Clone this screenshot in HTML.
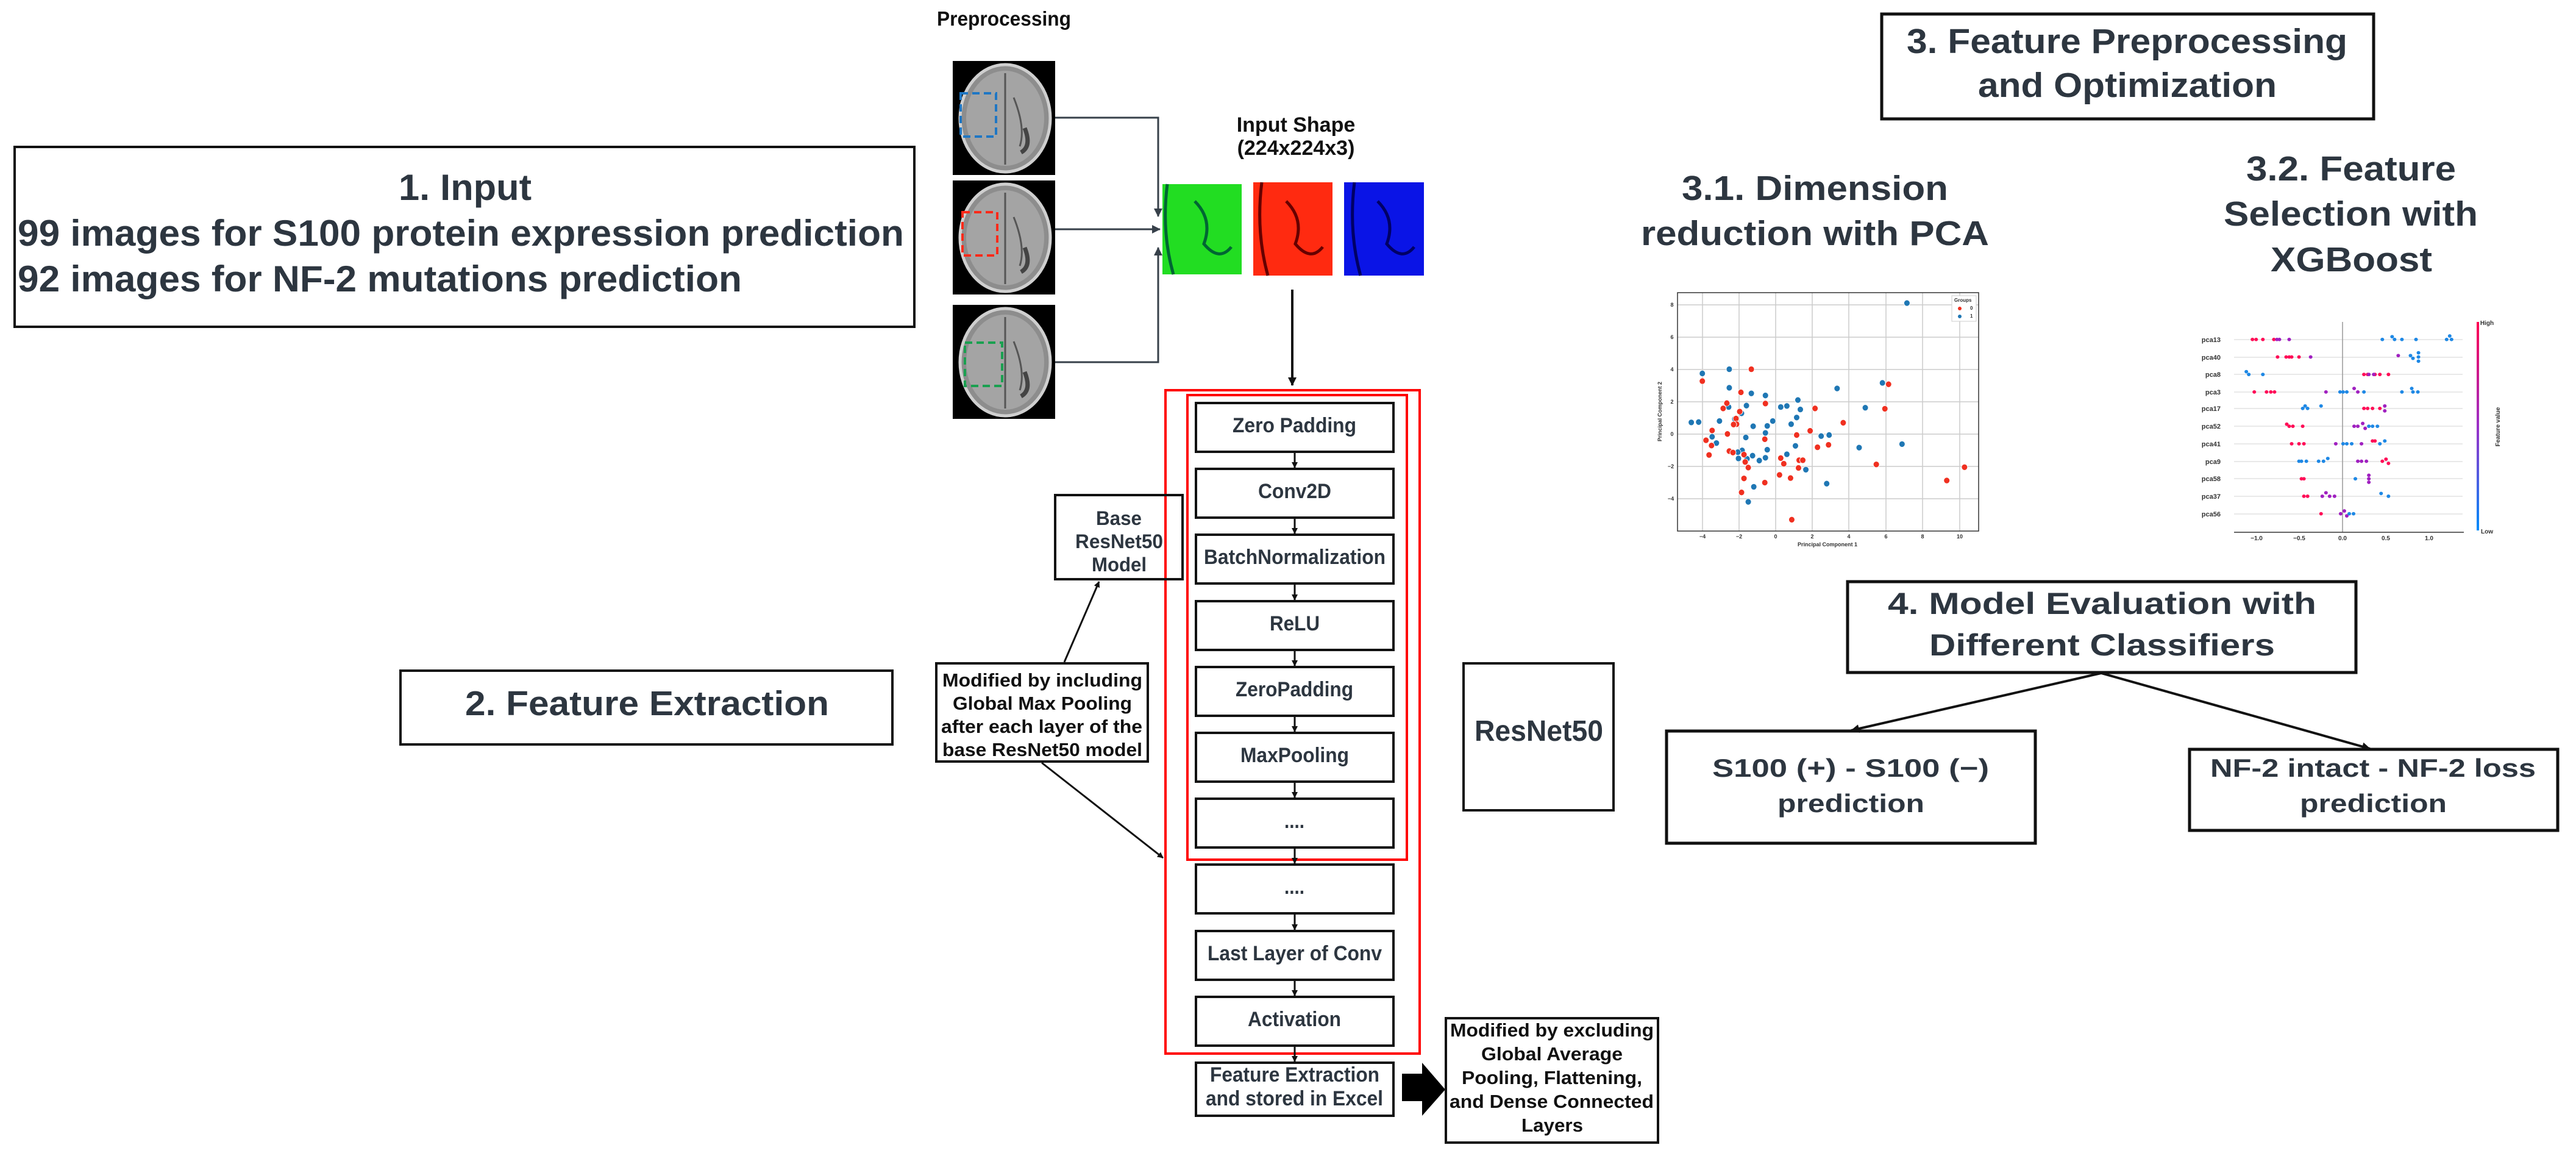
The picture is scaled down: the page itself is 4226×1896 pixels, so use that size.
<!DOCTYPE html>
<html><head><meta charset="utf-8"><style>
html,body{margin:0;padding:0;background:#fff}
svg{display:block}
text{font-family:"Liberation Sans",sans-serif;font-weight:bold}
</style></head><body>
<svg width="4226" height="1896" viewBox="0 0 4226 1896" xmlns="http://www.w3.org/2000/svg">
<defs>
<marker id="ah" markerWidth="10" markerHeight="10" refX="9" refY="5" orient="auto" markerUnits="userSpaceOnUse"><path d="M0,0 L10,5 L0,10 z" fill="#111"/></marker>
<marker id="ah2" markerWidth="14" markerHeight="14" refX="13" refY="7" orient="auto" markerUnits="userSpaceOnUse"><path d="M0,0 L14,7 L0,14 z" fill="#111"/></marker>
<marker id="ahg" markerWidth="14" markerHeight="14" refX="13" refY="7" orient="auto" markerUnits="userSpaceOnUse"><path d="M0,0 L14,7 L0,14 z" fill="#37404a"/></marker>
<linearGradient id="cb" x1="0" y1="0" x2="0" y2="1"><stop offset="0" stop-color="#ff0052"/><stop offset="0.5" stop-color="#9b30c8"/><stop offset="1" stop-color="#008bfb"/></linearGradient>
<g id="brain">
<rect x="0" y="0" width="168" height="187" fill="#000"/>
<ellipse cx="86" cy="94" rx="74" ry="88" fill="#8d8d8d" stroke="#cfcfcf" stroke-width="5"/>
<ellipse cx="86" cy="94" rx="64" ry="78" fill="#a4a4a4"/>
<path d="M86,20 L86,170 M100,60 Q120,110 110,140" stroke="#555" stroke-width="3" fill="none"/>
<path d="M118,110 Q130,140 112,150" stroke="#444" stroke-width="7" fill="none"/>
</g>
</defs>

<!-- 1. Input -->
<rect x="24" y="241" width="1476" height="295" fill="none" stroke="#111" stroke-width="4"/>
<g fill="#2d3640" font-size="60">
<text x="654" y="328" textLength="218" lengthAdjust="spacingAndGlyphs">1. Input</text>
<text x="29" y="403" textLength="1454" lengthAdjust="spacingAndGlyphs">99 images for S100 protein expression prediction</text>
<text x="29" y="478" textLength="1188" lengthAdjust="spacingAndGlyphs">92 images for NF-2 mutations prediction</text>
</g>

<!-- 2. Feature Extraction -->
<rect x="657" y="1100" width="807" height="121" fill="none" stroke="#111" stroke-width="4"/>
<text x="763" y="1173" font-size="57" fill="#2d3640" textLength="597" lengthAdjust="spacingAndGlyphs">2. Feature Extraction</text>

<!-- Preprocessing -->
<text x="1537" y="42" font-size="33" fill="#111" textLength="220" lengthAdjust="spacingAndGlyphs">Preprocessing</text>
<use href="#brain" x="1563" y="100"/>
<use href="#brain" x="1563" y="296"/>
<use href="#brain" x="1563" y="500"/>
<rect x="1576" y="153" width="58" height="71" fill="none" stroke="#1f77c4" stroke-width="4" stroke-dasharray="12,7"/>
<rect x="1579" y="348" width="57" height="71" fill="none" stroke="#ff2a1a" stroke-width="4" stroke-dasharray="12,7"/>
<rect x="1583" y="562" width="61" height="71" fill="none" stroke="#1aa050" stroke-width="4" stroke-dasharray="12,7"/>
<g stroke="#37404a" stroke-width="3" fill="none">
<path d="M1731,193 H1900 V355" marker-end="url(#ahg)"/>
<path d="M1731,376 H1903" marker-end="url(#ahg)"/>
<path d="M1731,594 H1900 V406" marker-end="url(#ahg)"/>
</g>

<!-- colour channels -->
<rect x="1907" y="302" width="130" height="148" fill="#22dd22"/>
<path d="M1915,302 Q1905,380 1925,450 M1960,330 Q1990,360 1975,400 Q2000,430 2020,405" stroke="#063" stroke-width="5" fill="none"/>
<rect x="2056" y="299" width="130" height="153" fill="#ff2a10"/>
<path d="M2070,299 Q2060,380 2080,452 M2110,330 Q2140,360 2125,400 Q2150,430 2170,405" stroke="#600" stroke-width="5" fill="none"/>
<rect x="2205" y="299" width="131" height="153" fill="#0a14e6"/>
<path d="M2222,299 Q2212,380 2232,452 M2260,330 Q2290,360 2275,400 Q2300,430 2320,405" stroke="#006" stroke-width="5" fill="none"/>
<g fill="#111" font-size="34" text-anchor="middle">
<text x="2126" y="216">Input Shape</text>
<text x="2126" y="254">(224x224x3)</text>
</g>
<path d="M2120,475 V632" stroke="#111" stroke-width="4" marker-end="url(#ah2)"/>

<!-- ResNet stack -->
<rect x="1912" y="640" width="417" height="1088" fill="none" stroke="#f00" stroke-width="4"/>
<rect x="1948" y="648" width="360" height="762" fill="none" stroke="#f00" stroke-width="4"/>
<g fill="none" stroke="#111" stroke-width="4">
<rect x="1962" y="661" width="324" height="80"/>
<rect x="1962" y="769" width="324" height="80"/>
<rect x="1962" y="877" width="324" height="80"/>
<rect x="1962" y="986" width="324" height="80"/>
<rect x="1962" y="1094" width="324" height="80"/>
<rect x="1962" y="1202" width="324" height="80"/>
<rect x="1962" y="1310" width="324" height="80"/>
<rect x="1962" y="1418" width="324" height="80"/>
<rect x="1962" y="1527" width="324" height="80"/>
<rect x="1962" y="1635" width="324" height="80"/>
<rect x="1962" y="1743" width="324" height="87"/>
</g>
<g stroke="#111" stroke-width="3">
<path d="M2124,741 V767" marker-end="url(#ah)"/>
<path d="M2124,849 V875" marker-end="url(#ah)"/>
<path d="M2124,957 V984" marker-end="url(#ah)"/>
<path d="M2124,1066 V1092" marker-end="url(#ah)"/>
<path d="M2124,1174 V1200" marker-end="url(#ah)"/>
<path d="M2124,1282 V1308" marker-end="url(#ah)"/>
<path d="M2124,1390 V1416" marker-end="url(#ah)"/>
<path d="M2124,1498 V1525" marker-end="url(#ah)"/>
<path d="M2124,1607 V1633" marker-end="url(#ah)"/>
<path d="M2124,1715 V1741" marker-end="url(#ah)"/>
</g>
<g fill="#2d3640" font-size="34">
<text x="2022" y="709" textLength="203" lengthAdjust="spacingAndGlyphs">Zero Padding</text>
<text x="2064" y="817" textLength="120" lengthAdjust="spacingAndGlyphs">Conv2D</text>
<text x="1975" y="925" textLength="298" lengthAdjust="spacingAndGlyphs">BatchNormalization</text>
<text x="2083" y="1034" textLength="82" lengthAdjust="spacingAndGlyphs">ReLU</text>
<text x="2027" y="1142" textLength="193" lengthAdjust="spacingAndGlyphs">ZeroPadding</text>
<text x="2035" y="1250" textLength="178" lengthAdjust="spacingAndGlyphs">MaxPooling</text>
<text x="2107" y="1358" textLength="33" lengthAdjust="spacingAndGlyphs">....</text>
<text x="2107" y="1466" textLength="33" lengthAdjust="spacingAndGlyphs">....</text>
<text x="1981" y="1575" textLength="286" lengthAdjust="spacingAndGlyphs">Last Layer of Conv</text>
<text x="2047" y="1683" textLength="153" lengthAdjust="spacingAndGlyphs">Activation</text>
<text x="1985" y="1774" textLength="278" lengthAdjust="spacingAndGlyphs">Feature Extraction</text>
<text x="1978" y="1813" textLength="291" lengthAdjust="spacingAndGlyphs">and stored in Excel</text>
</g>

<!-- Base ResNet50 -->
<rect x="1731" y="812" width="209" height="138" fill="none" stroke="#111" stroke-width="4"/>
<g fill="#2d3640" font-size="32">
<text x="1798" y="861" textLength="75" lengthAdjust="spacingAndGlyphs">Base</text>
<text x="1764" y="899" textLength="144" lengthAdjust="spacingAndGlyphs">ResNet50</text>
<text x="1791" y="937" textLength="90" lengthAdjust="spacingAndGlyphs">Model</text>
</g>
<!-- Modified by including -->
<rect x="1536" y="1088" width="347" height="161" fill="none" stroke="#111" stroke-width="4"/>
<g fill="#111" font-size="31">
<text x="1546" y="1126" textLength="328" lengthAdjust="spacingAndGlyphs">Modified by including</text>
<text x="1563" y="1164" textLength="294" lengthAdjust="spacingAndGlyphs">Global Max Pooling</text>
<text x="1544" y="1202" textLength="330" lengthAdjust="spacingAndGlyphs">after each layer of the</text>
<text x="1546" y="1240" textLength="328" lengthAdjust="spacingAndGlyphs">base ResNet50 model</text>
</g>
<g stroke="#111" stroke-width="3">
<path d="M1746,1086 L1803,954" marker-end="url(#ah)"/>
<path d="M1709,1251 L1908,1407" marker-end="url(#ah)"/>
</g>

<!-- ResNet50 big -->
<rect x="2401" y="1088" width="246" height="241" fill="none" stroke="#111" stroke-width="4"/>
<text x="2419" y="1215" font-size="48" fill="#2d3640" textLength="211" lengthAdjust="spacingAndGlyphs">ResNet50</text>

<!-- fat arrow -->
<path d="M2300,1761 H2333 V1743 L2371,1787 L2333,1830 V1806 H2300 z" fill="#000"/>
<!-- excluding box -->
<rect x="2372" y="1670" width="348" height="204" fill="none" stroke="#111" stroke-width="4"/>
<g fill="#111" font-size="31">
<text x="2379" y="1700" textLength="334" lengthAdjust="spacingAndGlyphs">Modified by excluding</text>
<text x="2430" y="1739" textLength="232" lengthAdjust="spacingAndGlyphs">Global Average</text>
<text x="2398" y="1778" textLength="296" lengthAdjust="spacingAndGlyphs">Pooling, Flattening,</text>
<text x="2378" y="1817" textLength="335" lengthAdjust="spacingAndGlyphs">and Dense Connected</text>
<text x="2496" y="1856" textLength="101" lengthAdjust="spacingAndGlyphs">Layers</text>
</g>

<!-- 3. Feature Preprocessing -->
<rect x="3087" y="23" width="807" height="172" fill="none" stroke="#111" stroke-width="5"/>
<g fill="#2d3640" font-size="57">
<text x="3128" y="87" textLength="723" lengthAdjust="spacingAndGlyphs">3. Feature Preprocessing</text>
<text x="3245" y="159" textLength="490" lengthAdjust="spacingAndGlyphs">and Optimization</text>
<text x="2759" y="328" textLength="437" lengthAdjust="spacingAndGlyphs">3.1. Dimension</text>
<text x="2692" y="402" textLength="571" lengthAdjust="spacingAndGlyphs">reduction with PCA</text>
<text x="3685" y="296" textLength="344" lengthAdjust="spacingAndGlyphs">3.2. Feature</text>
<text x="3648" y="370" textLength="417" lengthAdjust="spacingAndGlyphs">Selection with</text>
<text x="3725" y="445" textLength="265" lengthAdjust="spacingAndGlyphs">XGBoost</text>
</g>

<!-- PCA plot -->
<g stroke="#ccc" stroke-width="1.5">
<path d="M2793,480 V871 M2853,480 V871 M2913,480 V871 M2973,480 V871 M3033,480 V871 M3094,480 V871 M3154,480 V871 M3215,480 V871"/>
<path d="M2752,500 H3246 M2752,553 H3246 M2752,606 H3246 M2752,659 H3246 M2752,712 H3246 M2752,765 H3246 M2752,818 H3246"/>
</g>
<rect x="2752" y="480" width="494" height="391" fill="none" stroke="#333" stroke-width="1.5"/>
<g font-family="Liberation Sans" font-size="9" fill="#333" font-weight="normal" text-anchor="middle">
<text x="2793" y="883">−4</text><text x="2853" y="883">−2</text><text x="2913" y="883">0</text><text x="2973" y="883">2</text><text x="3033" y="883">4</text><text x="3094" y="883">6</text><text x="3154" y="883">8</text><text x="3215" y="883">10</text>
<text x="2743" y="503">8</text><text x="2743" y="556">6</text><text x="2743" y="609">4</text><text x="2743" y="662">2</text><text x="2743" y="715">0</text><text x="2741" y="768">−2</text><text x="2741" y="821">−4</text>
<text x="2998" y="896">Principal Component 1</text>
<text x="0" y="0" transform="translate(2726,675) rotate(-90)">Principal Component 2</text>
</g>
<rect x="3202" y="485" width="40" height="42" fill="#fff" stroke="#ccc"/>
<g font-size="8" font-weight="normal" fill="#333"><text x="3206" y="495">Groups</text><text x="3232" y="508">0</text><text x="3232" y="521">1</text></g>
<circle cx="3215" cy="506" r="3" fill="#f03020"/><circle cx="3215" cy="519" r="3" fill="#1f77b4"/>
<g transform="translate(2650,0) scale(1.005,0.574)">
<g fill="#1f77b4" stroke="#fff" stroke-width="1">
<ellipse cx="476" cy="866" rx="5" ry="8.7"/><ellipse cx="142" cy="1067" rx="5" ry="8.7"/><ellipse cx="186" cy="1055" rx="5" ry="8.7"/><ellipse cx="186" cy="1108" rx="5" ry="8.7"/><ellipse cx="222" cy="1124" rx="5" ry="8.7"/><ellipse cx="245" cy="1130" rx="5" ry="8.7"/><ellipse cx="298" cy="1143" rx="5" ry="8.7"/><ellipse cx="362" cy="1110" rx="5" ry="8.7"/><ellipse cx="436" cy="1094" rx="5" ry="8.7"/><ellipse cx="408" cy="1165" rx="5" ry="8.7"/><ellipse cx="302" cy="1170" rx="5" ry="8.7"/><ellipse cx="280" cy="1160" rx="5" ry="8.7"/><ellipse cx="270" cy="1163" rx="5" ry="8.7"/><ellipse cx="214" cy="1159" rx="5" ry="8.7"/><ellipse cx="185" cy="1163" rx="5" ry="8.7"/><ellipse cx="206" cy="1181" rx="5" ry="8.7"/><ellipse cx="195" cy="1197" rx="5" ry="8.7"/><ellipse cx="170" cy="1203" rx="5" ry="8.7"/><ellipse cx="124" cy="1207" rx="5" ry="8.7"/><ellipse cx="136" cy="1206" rx="5" ry="8.7"/><ellipse cx="257" cy="1203" rx="5" ry="8.7"/><ellipse cx="296" cy="1193" rx="5" ry="8.7"/><ellipse cx="287" cy="1212" rx="5" ry="8.7"/><ellipse cx="248" cy="1217" rx="5" ry="8.7"/><ellipse cx="225" cy="1218" rx="5" ry="8.7"/><ellipse cx="245" cy="1237" rx="5" ry="8.7"/><ellipse cx="158" cy="1248" rx="5" ry="8.7"/><ellipse cx="165" cy="1266" rx="5" ry="8.7"/><ellipse cx="336" cy="1246" rx="5" ry="8.7"/><ellipse cx="349" cy="1243" rx="5" ry="8.7"/><ellipse cx="294" cy="1274" rx="5" ry="8.7"/><ellipse cx="398" cy="1279" rx="5" ry="8.7"/><ellipse cx="468" cy="1269" rx="5" ry="8.7"/><ellipse cx="248" cy="1285" rx="5" ry="8.7"/><ellipse cx="207" cy="1287" rx="5" ry="8.7"/><ellipse cx="200" cy="1292" rx="5" ry="8.7"/><ellipse cx="280" cy="1298" rx="5" ry="8.7"/><ellipse cx="245" cy="1308" rx="5" ry="8.7"/><ellipse cx="224" cy="1302" rx="5" ry="8.7"/><ellipse cx="235" cy="1316" rx="5" ry="8.7"/><ellipse cx="215" cy="1311" rx="5" ry="8.7"/><ellipse cx="201" cy="1310" rx="5" ry="8.7"/><ellipse cx="213" cy="1250" rx="5" ry="8.7"/><ellipse cx="311" cy="1342" rx="5" ry="8.7"/><ellipse cx="345" cy="1382" rx="5" ry="8.7"/><ellipse cx="226" cy="1391" rx="5" ry="8.7"/><ellipse cx="217" cy="1434" rx="5" ry="8.7"/>
</g>
<g fill="#f03020" stroke="#fff" stroke-width="1">
<ellipse cx="222" cy="1055" rx="5" ry="8.7"/><ellipse cx="142" cy="1089" rx="5" ry="8.7"/><ellipse cx="446" cy="1098" rx="5" ry="8.7"/><ellipse cx="205" cy="1121" rx="5" ry="8.7"/><ellipse cx="245" cy="1153" rx="5" ry="8.7"/><ellipse cx="182" cy="1152" rx="5" ry="8.7"/><ellipse cx="176" cy="1167" rx="5" ry="8.7"/><ellipse cx="326" cy="1167" rx="5" ry="8.7"/><ellipse cx="440" cy="1168" rx="5" ry="8.7"/><ellipse cx="203" cy="1176" rx="5" ry="8.7"/><ellipse cx="197" cy="1196" rx="5" ry="8.7"/><ellipse cx="198" cy="1212" rx="5" ry="8.7"/><ellipse cx="193" cy="1213" rx="5" ry="8.7"/><ellipse cx="372" cy="1208" rx="5" ry="8.7"/><ellipse cx="318" cy="1231" rx="5" ry="8.7"/><ellipse cx="158" cy="1230" rx="5" ry="8.7"/><ellipse cx="183" cy="1240" rx="5" ry="8.7"/><ellipse cx="296" cy="1243" rx="5" ry="8.7"/><ellipse cx="148" cy="1258" rx="5" ry="8.7"/><ellipse cx="244" cy="1255" rx="5" ry="8.7"/><ellipse cx="157" cy="1273" rx="5" ry="8.7"/><ellipse cx="153" cy="1300" rx="5" ry="8.7"/><ellipse cx="330" cy="1278" rx="5" ry="8.7"/><ellipse cx="348" cy="1271" rx="5" ry="8.7"/><ellipse cx="186" cy="1289" rx="5" ry="8.7"/><ellipse cx="192" cy="1293" rx="5" ry="8.7"/><ellipse cx="210" cy="1299" rx="5" ry="8.7"/><ellipse cx="270" cy="1309" rx="5" ry="8.7"/><ellipse cx="300" cy="1315" rx="5" ry="8.7"/><ellipse cx="306" cy="1315" rx="5" ry="8.7"/><ellipse cx="275" cy="1325" rx="5" ry="8.7"/><ellipse cx="426" cy="1327" rx="5" ry="8.7"/><ellipse cx="212" cy="1320" rx="5" ry="8.7"/><ellipse cx="217" cy="1336" rx="5" ry="8.7"/><ellipse cx="299" cy="1337" rx="5" ry="8.7"/><ellipse cx="570" cy="1335" rx="5" ry="8.7"/><ellipse cx="268" cy="1357" rx="5" ry="8.7"/><ellipse cx="286" cy="1366" rx="5" ry="8.7"/><ellipse cx="210" cy="1367" rx="5" ry="8.7"/><ellipse cx="541" cy="1373" rx="5" ry="8.7"/><ellipse cx="244" cy="1379" rx="5" ry="8.7"/><ellipse cx="206" cy="1407" rx="5" ry="8.7"/><ellipse cx="288" cy="1485" rx="5" ry="8.7"/>
</g>
</g>

<!-- SHAP plot -->
<g stroke="#e2e2e2" stroke-width="1.5">
<path d="M3665,557 H4040 M3665,586 H4040 M3665,614 H4040 M3665,643 H4040 M3665,670 H4040 M3665,699 H4040 M3665,728 H4040 M3665,757 H4040 M3665,785 H4040 M3665,814 H4040 M3665,843 H4040"/>
</g>
<path d="M3843,528 V873" stroke="#999" stroke-width="1.5"/>
<path d="M3665,873 H4042" stroke="#333" stroke-width="1.5"/>
<g font-size="11" font-weight="normal" fill="#333" text-anchor="end">
<text x="3643" y="561">pca13</text><text x="3643" y="590">pca40</text><text x="3643" y="618">pca8</text><text x="3643" y="647">pca3</text><text x="3643" y="674">pca17</text><text x="3643" y="703">pca52</text><text x="3643" y="732">pca41</text><text x="3643" y="761">pca9</text><text x="3643" y="789">pca58</text><text x="3643" y="818">pca37</text><text x="3643" y="847">pca56</text>
</g>
<g font-size="10" font-weight="normal" fill="#333" text-anchor="middle">
<text x="3702" y="886">−1.0</text><text x="3772" y="886">−0.5</text><text x="3843" y="886">0.0</text><text x="3914" y="886">0.5</text><text x="3985" y="886">1.0</text>
<text x="4080" y="533">High</text><text x="4080" y="875">Low</text>
<text x="0" y="0" transform="translate(4101,700) rotate(-90)" >Feature value</text>
</g>
<rect x="4063" y="528" width="4" height="342" fill="url(#cb)"/>
<g transform="translate(2650,0) scale(1.005,0.574)">
<g fill="#ff0d57">
<ellipse cx="1040" cy="970" rx="3" ry="5"/><ellipse cx="1046" cy="970" rx="3" ry="5"/><ellipse cx="1057" cy="970" rx="3" ry="5"/><ellipse cx="1075" cy="970" rx="3" ry="5"/>
<ellipse cx="1081" cy="1020" rx="3" ry="5"/><ellipse cx="1095" cy="1020" rx="3" ry="5"/><ellipse cx="1100" cy="1020" rx="3" ry="5"/><ellipse cx="1104" cy="1020" rx="3" ry="5"/><ellipse cx="1116" cy="1020" rx="3" ry="5"/>
<ellipse cx="1222" cy="1070" rx="3" ry="5"/><ellipse cx="1228" cy="1070" rx="3" ry="5"/><ellipse cx="1240" cy="1070" rx="3" ry="5"/><ellipse cx="1248" cy="1070" rx="3" ry="5"/><ellipse cx="1262" cy="1070" rx="3" ry="5"/>
<ellipse cx="1043" cy="1120" rx="3" ry="5"/><ellipse cx="1063" cy="1120" rx="3" ry="5"/><ellipse cx="1070" cy="1120" rx="3" ry="5"/><ellipse cx="1076" cy="1120" rx="3" ry="5"/>
<ellipse cx="1222" cy="1167" rx="3" ry="5"/><ellipse cx="1228" cy="1167" rx="3" ry="5"/><ellipse cx="1236" cy="1167" rx="3" ry="5"/><ellipse cx="1248" cy="1167" rx="3" ry="5"/>
<ellipse cx="1096" cy="1212" rx="3" ry="5"/><ellipse cx="1100" cy="1218" rx="3" ry="5"/><ellipse cx="1106" cy="1218" rx="3" ry="5"/><ellipse cx="1122" cy="1218" rx="3" ry="5"/>
<ellipse cx="1104" cy="1268" rx="3" ry="5"/><ellipse cx="1116" cy="1268" rx="3" ry="5"/><ellipse cx="1124" cy="1268" rx="3" ry="5"/><ellipse cx="1236" cy="1260" rx="3" ry="5"/><ellipse cx="1240" cy="1260" rx="3" ry="5"/>
<ellipse cx="1252" cy="1318" rx="3" ry="5"/><ellipse cx="1258" cy="1312" rx="3" ry="5"/><ellipse cx="1262" cy="1324" rx="3" ry="5"/>
<ellipse cx="1120" cy="1368" rx="3" ry="5"/><ellipse cx="1124" cy="1368" rx="3" ry="5"/>
<ellipse cx="1124" cy="1418" rx="3" ry="5"/><ellipse cx="1130" cy="1418" rx="3" ry="5"/><ellipse cx="1152" cy="1468" rx="3" ry="5"/>
</g>
<g fill="#a020c0">
<ellipse cx="1080" cy="970" rx="3" ry="5"/><ellipse cx="1084" cy="970" rx="3" ry="5"/><ellipse cx="1100" cy="970" rx="3" ry="5"/><ellipse cx="1135" cy="1020" rx="3" ry="5"/><ellipse cx="1278" cy="1016" rx="3" ry="5"/>
<ellipse cx="1230" cy="1070" rx="3" ry="5"/><ellipse cx="1238" cy="1070" rx="3" ry="5"/><ellipse cx="1160" cy="1120" rx="3" ry="5"/><ellipse cx="1206" cy="1110" rx="3" ry="5"/><ellipse cx="1212" cy="1120" rx="3" ry="5"/>
<ellipse cx="1256" cy="1160" rx="3" ry="5"/><ellipse cx="1256" cy="1174" rx="3" ry="5"/><ellipse cx="1206" cy="1218" rx="3" ry="5"/><ellipse cx="1212" cy="1218" rx="3" ry="5"/><ellipse cx="1220" cy="1210" rx="3" ry="5"/><ellipse cx="1224" cy="1224" rx="3" ry="5"/>
<ellipse cx="1176" cy="1268" rx="3" ry="5"/><ellipse cx="1218" cy="1268" rx="3" ry="5"/><ellipse cx="1212" cy="1318" rx="3" ry="5"/><ellipse cx="1218" cy="1318" rx="3" ry="5"/><ellipse cx="1226" cy="1318" rx="3" ry="5"/>
<ellipse cx="1230" cy="1358" rx="3" ry="5"/><ellipse cx="1230" cy="1368" rx="3" ry="5"/><ellipse cx="1230" cy="1378" rx="3" ry="5"/>
<ellipse cx="1154" cy="1418" rx="3" ry="5"/><ellipse cx="1160" cy="1408" rx="3" ry="5"/><ellipse cx="1166" cy="1418" rx="3" ry="5"/><ellipse cx="1174" cy="1418" rx="3" ry="5"/>
<ellipse cx="1184" cy="1468" rx="3" ry="5"/><ellipse cx="1190" cy="1460" rx="3" ry="5"/><ellipse cx="1194" cy="1474" rx="3" ry="5"/>
</g>
<g fill="#1e88e5">
<ellipse cx="1252" cy="970" rx="3" ry="5"/><ellipse cx="1268" cy="962" rx="3" ry="5"/><ellipse cx="1272" cy="970" rx="3" ry="5"/><ellipse cx="1284" cy="970" rx="3" ry="5"/><ellipse cx="1307" cy="970" rx="3" ry="5"/><ellipse cx="1357" cy="970" rx="3" ry="5"/><ellipse cx="1365" cy="970" rx="3" ry="5"/><ellipse cx="1362" cy="960" rx="3" ry="5"/>
<ellipse cx="1298" cy="1016" rx="3" ry="5"/><ellipse cx="1302" cy="1024" rx="3" ry="5"/><ellipse cx="1311" cy="1008" rx="3" ry="5"/><ellipse cx="1311" cy="1020" rx="3" ry="5"/><ellipse cx="1311" cy="1032" rx="3" ry="5"/>
<ellipse cx="1030" cy="1062" rx="3" ry="5"/><ellipse cx="1034" cy="1070" rx="3" ry="5"/><ellipse cx="1057" cy="1070" rx="3" ry="5"/>
<ellipse cx="1183" cy="1120" rx="3" ry="5"/><ellipse cx="1188" cy="1120" rx="3" ry="5"/><ellipse cx="1194" cy="1120" rx="3" ry="5"/><ellipse cx="1222" cy="1120" rx="3" ry="5"/><ellipse cx="1284" cy="1120" rx="3" ry="5"/><ellipse cx="1300" cy="1110" rx="3" ry="5"/><ellipse cx="1302" cy="1120" rx="3" ry="5"/><ellipse cx="1310" cy="1120" rx="3" ry="5"/>
<ellipse cx="1122" cy="1167" rx="3" ry="5"/><ellipse cx="1126" cy="1160" rx="3" ry="5"/><ellipse cx="1130" cy="1167" rx="3" ry="5"/><ellipse cx="1152" cy="1160" rx="3" ry="5"/>
<ellipse cx="1230" cy="1218" rx="3" ry="5"/><ellipse cx="1236" cy="1218" rx="3" ry="5"/><ellipse cx="1244" cy="1218" rx="3" ry="5"/>
<ellipse cx="1188" cy="1268" rx="3" ry="5"/><ellipse cx="1194" cy="1268" rx="3" ry="5"/><ellipse cx="1202" cy="1268" rx="3" ry="5"/><ellipse cx="1248" cy="1268" rx="3" ry="5"/><ellipse cx="1256" cy="1260" rx="3" ry="5"/>
<ellipse cx="1116" cy="1318" rx="3" ry="5"/><ellipse cx="1120" cy="1318" rx="3" ry="5"/><ellipse cx="1128" cy="1318" rx="3" ry="5"/><ellipse cx="1148" cy="1318" rx="3" ry="5"/><ellipse cx="1156" cy="1318" rx="3" ry="5"/><ellipse cx="1163" cy="1310" rx="3" ry="5"/>
<ellipse cx="1208" cy="1368" rx="3" ry="5"/><ellipse cx="1250" cy="1410" rx="3" ry="5"/><ellipse cx="1262" cy="1418" rx="3" ry="5"/><ellipse cx="1198" cy="1468" rx="3" ry="5"/><ellipse cx="1205" cy="1468" rx="3" ry="5"/>
</g>
</g>

<!-- 4. Model Evaluation -->
<rect x="3031" y="954" width="834" height="149" fill="none" stroke="#111" stroke-width="5"/>
<g fill="#2d3640" font-size="50">
<text x="3097" y="1007" textLength="703" lengthAdjust="spacingAndGlyphs">4. Model Evaluation with</text>
<text x="3165" y="1075" textLength="567" lengthAdjust="spacingAndGlyphs">Different Classifiers</text>
</g>
<g stroke="#111" stroke-width="4">
<path d="M3447,1104 L3037,1198" marker-end="url(#ah2)"/>
<path d="M3447,1104 L3888,1228" marker-end="url(#ah2)"/>
</g>
<rect x="2734" y="1199" width="605" height="184" fill="none" stroke="#111" stroke-width="5"/>
<rect x="3592" y="1229" width="604" height="133" fill="none" stroke="#111" stroke-width="5"/>
<g fill="#2d3640" font-size="42">
<text x="2809" y="1274" textLength="454" lengthAdjust="spacingAndGlyphs">S100  (+) - S100 (−)</text>
<text x="2916" y="1332" textLength="241" lengthAdjust="spacingAndGlyphs">prediction</text>
<text x="3626" y="1274" textLength="534" lengthAdjust="spacingAndGlyphs">NF-2 intact - NF-2 loss</text>
<text x="3773" y="1332" textLength="241" lengthAdjust="spacingAndGlyphs">prediction</text>
</g>
</svg>
</body></html>
